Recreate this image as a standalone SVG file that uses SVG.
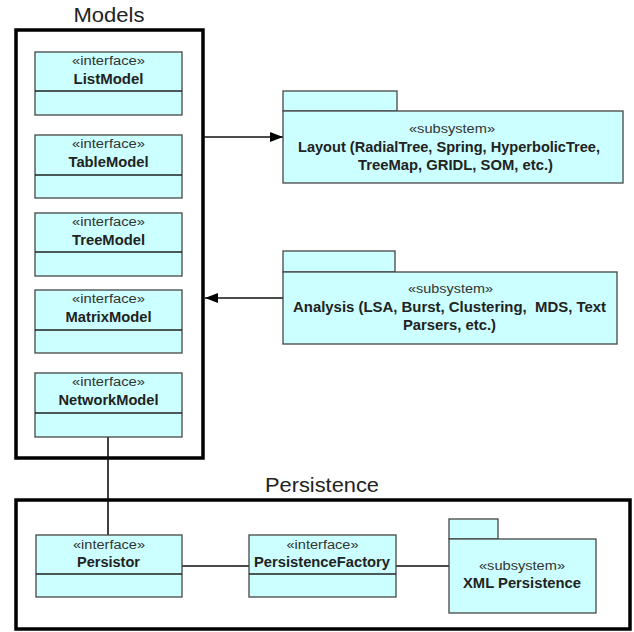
<svg xmlns="http://www.w3.org/2000/svg" width="634" height="632" viewBox="0 0 634 632">
<style>
.frame{fill:#fff;stroke:#000;stroke-width:3.5}
.box{fill:#ccffff;stroke:#454545;stroke-width:1.3}
.div{stroke:#202020;stroke-width:1.3}
.title{font-family:"Liberation Sans",Arial,sans-serif;font-size:21px;fill:#222;text-anchor:middle}
.st{font-family:"Liberation Sans",Arial,sans-serif;font-size:12px;fill:#333;text-anchor:middle}
.nm{font-family:"Liberation Sans",Arial,sans-serif;font-size:14px;font-weight:bold;fill:#222;text-anchor:middle}
.line{stroke:#111;stroke-width:1.6;fill:none}
</style>
<defs>
<marker id="arr" viewBox="0 0 13 10" refX="13" refY="5" markerWidth="13" markerHeight="10" markerUnits="userSpaceOnUse" orient="auto">
<path d="M0,0 L13,5 L0,10 Z" fill="#000"/>
</marker>
</defs>
<g id="models">
<rect class="frame" x="16" y="30" width="187" height="428"/>
<text class="title" x="109" y="22" textLength="71" lengthAdjust="spacingAndGlyphs">Models</text>
</g>
<g id="persistence">
<rect class="frame" x="16" y="500" width="614" height="129"/>
<text class="title" x="322" y="492" textLength="114" lengthAdjust="spacingAndGlyphs">Persistence</text>
</g>
<g id="connectors">
<line class="line" x1="203" y1="137" x2="283" y2="137" marker-end="url(#arr)"/>
<line class="line" x1="283" y1="298" x2="205" y2="298" marker-end="url(#arr)"/>
<line class="line" x1="108" y1="437" x2="108" y2="535"/>
<line class="line" x1="182" y1="566" x2="249" y2="566"/>
<line class="line" x1="396" y1="566" x2="449" y2="566"/>
</g>
<g id="ListModel">
<rect class="box" x="35" y="52" width="147" height="63"/>
<line class="div" x1="35" y1="91" x2="182" y2="91"/>
<text class="st" x="108.5" y="65" textLength="73" lengthAdjust="spacingAndGlyphs">«interface»</text>
<text class="nm" x="108.5" y="84" textLength="70" lengthAdjust="spacingAndGlyphs">ListModel</text>
</g>
<g id="TableModel">
<rect class="box" x="35" y="135" width="147" height="63"/>
<line class="div" x1="35" y1="175" x2="182" y2="175"/>
<text class="st" x="108.5" y="148" textLength="73" lengthAdjust="spacingAndGlyphs">«interface»</text>
<text class="nm" x="108.5" y="167" textLength="80" lengthAdjust="spacingAndGlyphs">TableModel</text>
</g>
<g id="TreeModel">
<rect class="box" x="35" y="213" width="147" height="63"/>
<line class="div" x1="35" y1="252" x2="182" y2="252"/>
<text class="st" x="108.5" y="226" textLength="73" lengthAdjust="spacingAndGlyphs">«interface»</text>
<text class="nm" x="108.5" y="245" textLength="73" lengthAdjust="spacingAndGlyphs">TreeModel</text>
</g>
<g id="MatrixModel">
<rect class="box" x="35" y="290" width="147" height="63"/>
<line class="div" x1="35" y1="330" x2="182" y2="330"/>
<text class="st" x="108.5" y="303" textLength="73" lengthAdjust="spacingAndGlyphs">«interface»</text>
<text class="nm" x="108.5" y="322" textLength="86" lengthAdjust="spacingAndGlyphs">MatrixModel</text>
</g>
<g id="NetworkModel">
<rect class="box" x="35" y="373" width="147" height="64"/>
<line class="div" x1="35" y1="413" x2="182" y2="413"/>
<text class="st" x="108.5" y="386" textLength="73" lengthAdjust="spacingAndGlyphs">«interface»</text>
<text class="nm" x="108.5" y="405" textLength="100" lengthAdjust="spacingAndGlyphs">NetworkModel</text>
</g>
<g id="Layout">
<rect class="box" x="283" y="91" width="114" height="20"/>
<rect class="box" x="283" y="111" width="340" height="72"/>
<text class="st" x="452" y="133" textLength="86" lengthAdjust="spacingAndGlyphs">«subsystem»</text>
<text class="nm" x="449" y="152" textLength="302" lengthAdjust="spacingAndGlyphs">Layout (RadialTree, Spring, HyperbolicTree,</text>
<text class="nm" x="455.5" y="170" textLength="195" lengthAdjust="spacingAndGlyphs">TreeMap, GRIDL, SOM, etc.)</text>
</g>
<g id="Analysis">
<rect class="box" x="283" y="251" width="112" height="21"/>
<rect class="box" x="283" y="272" width="334" height="72"/>
<text class="st" x="450.5" y="293" textLength="85" lengthAdjust="spacingAndGlyphs">«subsystem»</text>
<text class="nm" x="449.5" y="312" textLength="313" lengthAdjust="spacingAndGlyphs" xml:space="preserve">Analysis (LSA, Burst, Clustering,  MDS, Text</text>
<text class="nm" x="449.5" y="330" textLength="93" lengthAdjust="spacingAndGlyphs">Parsers, etc.)</text>
</g>
<g id="Persistor">
<rect class="box" x="36" y="535" width="146" height="62"/>
<line class="div" x1="36" y1="574" x2="182" y2="574"/>
<text class="st" x="109" y="549" textLength="72" lengthAdjust="spacingAndGlyphs">«interface»</text>
<text class="nm" x="108.5" y="567" textLength="63" lengthAdjust="spacingAndGlyphs">Persistor</text>
</g>
<g id="PersistenceFactory">
<rect class="box" x="249" y="535" width="147" height="62"/>
<line class="div" x1="249" y1="574" x2="396" y2="574"/>
<text class="st" x="322.5" y="549" textLength="72" lengthAdjust="spacingAndGlyphs">«interface»</text>
<text class="nm" x="322" y="567" textLength="136" lengthAdjust="spacingAndGlyphs">PersistenceFactory</text>
</g>
<g id="XMLPersistence">
<rect class="box" x="449" y="519" width="49" height="20"/>
<rect class="box" x="449" y="539" width="147" height="74"/>
<text class="st" x="522" y="570" textLength="86" lengthAdjust="spacingAndGlyphs">«subsystem»</text>
<text class="nm" x="522" y="588" textLength="118" lengthAdjust="spacingAndGlyphs">XML Persistence</text>
</g>
</svg>
